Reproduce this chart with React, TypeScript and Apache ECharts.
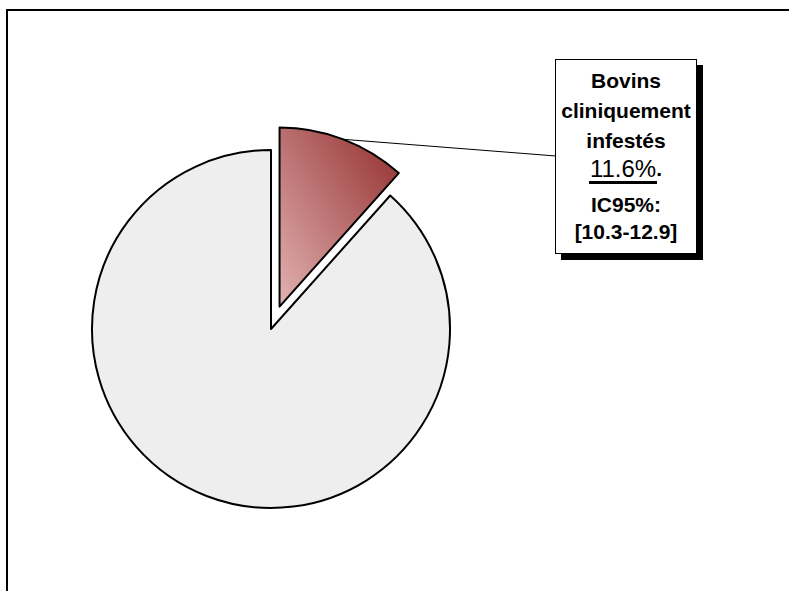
import React, { useEffect, useRef } from 'react';
import * as echarts from 'echarts';

// ---- data ----
const categories = ['Bovins cliniquement infestés', 'Bovins non infestés'];
const values = [11.6, 88.4];
const ci95 = [10.3, 12.9];

const FONT = '"Liberation Sans", Arial, Helvetica, sans-serif';

export default function App() {
  const ref = useRef<HTMLDivElement>(null);

  useEffect(() => {
    document.body.style.margin = '0';
    const chart = echarts.init(ref.current!, null, { renderer: 'svg' });

    const total = values.reduce((a, b) => a + b, 0);
    const center = [271, 329];
    const radius = 179;
    const explode = 24;
    const half = (values[0] / total) * Math.PI; // half-angle of first slice
    const shifted = [center[0] + explode * Math.sin(half), center[1] - explode * Math.cos(half)];
    const fallbackStart = [shifted[0] + radius * Math.sin(half), shifted[1] - radius * Math.cos(half)];

    const border = { borderColor: '#000', borderWidth: 2 };
    const gradient = new echarts.graphic.LinearGradient(0, 1, 1, 0, [
      { offset: 0, color: '#e2b2b2' },
      { offset: 1, color: '#922c2c' },
    ]);
    const hidden = {
      itemStyle: { opacity: 0 },
      label: { show: false },
      labelLine: { show: false },
      emphasis: { disabled: true },
    };
    const words = categories[0].split(' ');

    const boxX = 556;
    const boxY = 60;
    const lineEndY = 156;

    chart.setOption({
      animation: false,
      graphic: [
        {
          type: 'rect',
          silent: true,
          z: -10,
          shape: { x: 7, y: 10, width: 820, height: 620 },
          style: { fill: 'none', stroke: '#000', lineWidth: 2 },
        },
      ],
      series: [
        {
          type: 'pie',
          center,
          radius,
          startAngle: 90,
          clockwise: true,
          silent: true,
          avoidLabelOverlap: false,
          label: { show: false },
          labelLine: { show: false },
          data: [
            { name: categories[0], value: values[0], ...hidden },
            { name: categories[1], value: values[1], itemStyle: { color: '#eeeeee', ...border } },
          ],
        },
        {
          type: 'pie',
          center: shifted,
          radius,
          startAngle: 90,
          clockwise: true,
          silent: true,
          avoidLabelOverlap: false,
          data: [
            {
              name: categories[0],
              value: values[0],
              itemStyle: { color: gradient, ...border },
              label: {
                show: true,
                position: 'outside',
                formatter: (p: any) =>
                  [
                    ...words.map((w) => `{t|${w}}`),
                    `{pct|${p.value}%}{dot|.}`,
                    `{ul| }{gap| }`,
                    `{ic|IC95%:}`,
                    `{ci|[${ci95[0]}-${ci95[1]}]}`,
                  ].join('\n'),
                width: 130,
                padding: [5, 5, 15, 5],
                backgroundColor: '#fff',
                borderColor: '#000',
                borderWidth: 1,
                shadowColor: '#000',
                shadowOffsetX: 6,
                shadowOffsetY: 6,
                shadowBlur: 0,
                fontFamily: FONT,
                color: '#000',
                rich: {
                  t: { fontFamily: FONT, fontSize: 21, fontWeight: 'bold', lineHeight: 30, align: 'center', color: '#000' },
                  pct: { fontFamily: FONT, fontSize: 24, fontWeight: 'normal', lineHeight: 26, align: 'center', color: '#000' },
                  dot: { fontFamily: FONT, fontSize: 21, fontWeight: 'bold', lineHeight: 26, align: 'center', color: '#000' },
                  ul: { fontSize: 1, width: 68, height: 3, lineHeight: 3, backgroundColor: '#000', align: 'center' },
                  gap: { fontSize: 1, width: 6, height: 3, lineHeight: 3, align: 'center' },
                  ic: { fontFamily: FONT, fontSize: 21, fontWeight: 'bold', lineHeight: 40, align: 'center', color: '#000' },
                  ci: { fontFamily: FONT, fontSize: 21, fontWeight: 'bold', lineHeight: 14, align: 'center', color: '#000' },
                },
              },
              labelLine: { show: true, length: 10, length2: 10, lineStyle: { color: '#000', width: 1 } },
            },
            { name: categories[1], value: values[1], ...hidden },
          ],
          labelLayout: (p: any) => {
            if (p.dataIndex !== 0) return {};
            const start = p.labelLinePoints && p.labelLinePoints[0] ? p.labelLinePoints[0] : fallbackStart;
            return {
              x: boxX,
              y: boxY,
              align: 'left',
              verticalAlign: 'top',
              labelLinePoints: [start, start, [boxX, lineEndY]],
            };
          },
        },
      ],
    });

    return () => chart.dispose();
  }, []);

  return <div ref={ref} style={{ width: 789, height: 591 }} />;
}
